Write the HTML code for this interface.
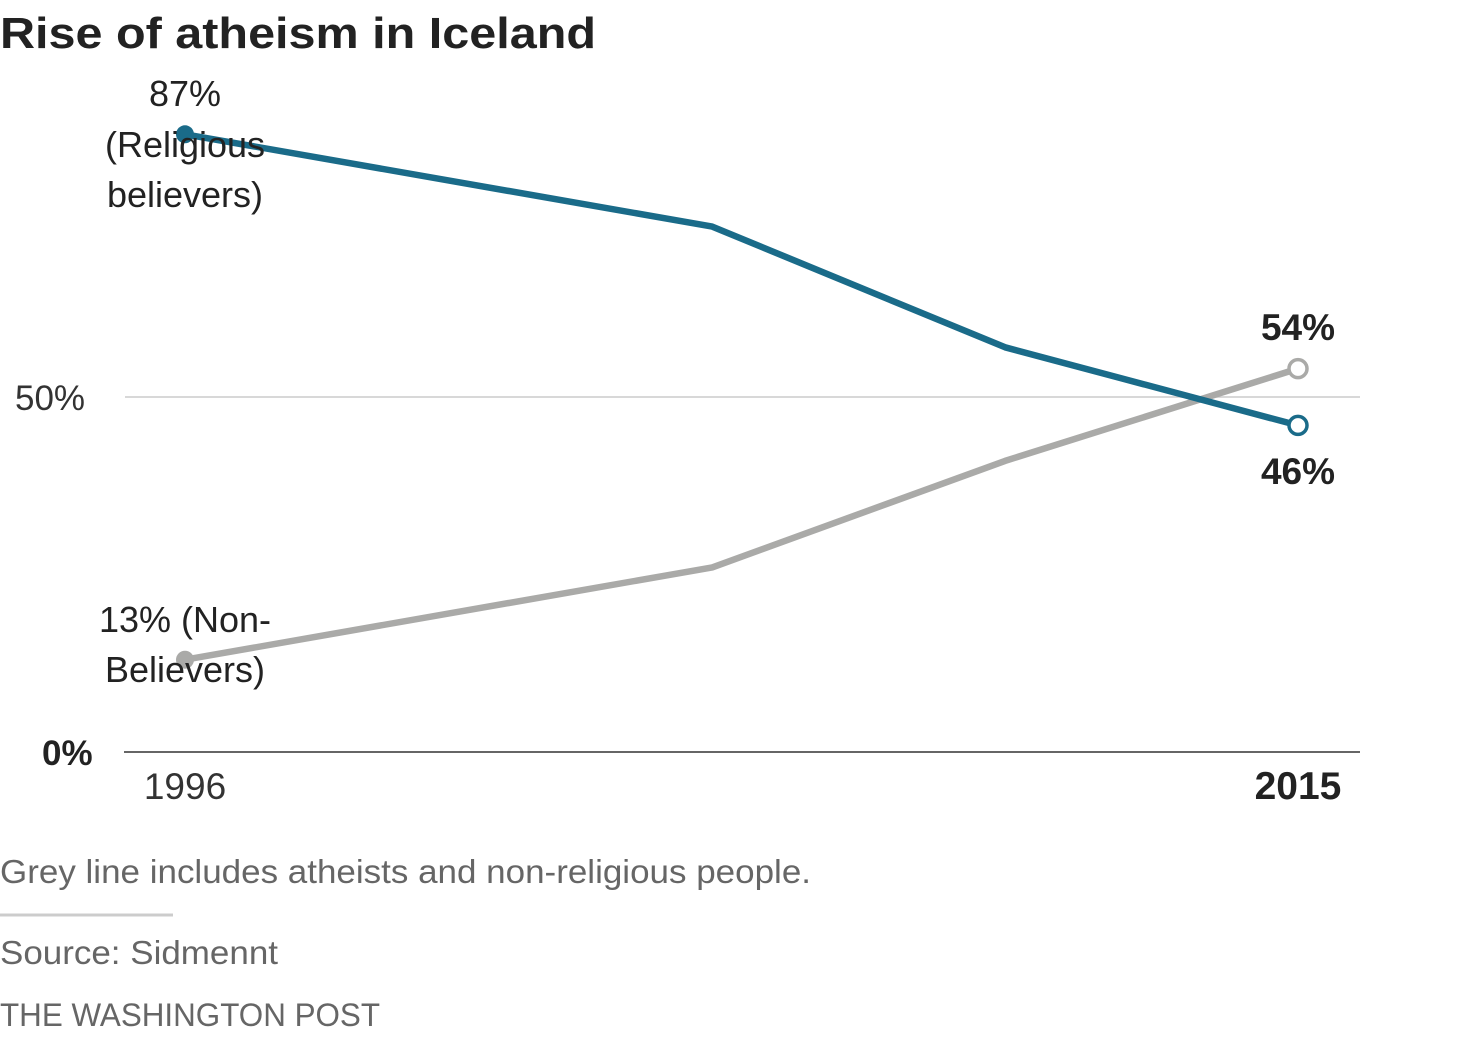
<!DOCTYPE html>
<html><head><meta charset="utf-8"><style>
body{margin:0;background:#fff;width:1484px;height:1041px;overflow:hidden;font-family:"Liberation Sans",sans-serif;}
svg{position:absolute;left:0;top:0}
</style></head><body>
<svg width="1484" height="1041">
<text x="0" y="48" font-size="44" font-weight="bold" fill="#222" textLength="596" lengthAdjust="spacingAndGlyphs">Rise of atheism in Iceland</text>
<g id="plot"></g>
<text x="0" y="883" font-size="33" fill="#666" textLength="811" lengthAdjust="spacingAndGlyphs">Grey line includes atheists and non-religious people.</text>
<line x1="0" y1="915" x2="173" y2="915" stroke="#ccc" stroke-width="3"/>
<text x="0" y="964" font-size="33" fill="#666" textLength="278" lengthAdjust="spacingAndGlyphs">Source: Sidmennt</text>
<text x="0" y="1026" font-size="32" fill="#666" textLength="380" lengthAdjust="spacingAndGlyphs">THE WASHINGTON POST</text>
</svg>
<script>
const years=[1996,2005,2010,2015];
const religious=[87,74,57,46];
const nonBelievers=[13,26,41,54];
const X=y=>185+(y-1996)*(1113/19);
const Y=v=>752-v*7.1;
const NS="http://www.w3.org/2000/svg";
const g=document.getElementById('plot');
function mk(t,a,txt){const e=document.createElementNS(NS,t);for(const k in a)e.setAttribute(k,a[k]);if(txt!==undefined)e.textContent=txt;g.appendChild(e);return e;}
let e=mk('line',{x1:125,x2:1360,y1:Y(50),y2:Y(50),stroke:'#ccc','stroke-width':1.5});


e=mk('line',{x1:124,x2:1360,y1:Y(0),y2:Y(0),stroke:'#666','stroke-width':2});


e=mk('text',{x:15,y:Y(50)+13,'font-size':35,fill:'#333'},'50%');


e=mk('text',{x:42,y:Y(0)+13,'font-size':35,'font-weight':'bold',fill:'#222'},'0%');


e=mk('text',{x:X(1996),y:799,'font-size':37,fill:'#333','text-anchor':'middle'},'1996');


e=mk('text',{x:X(2015),y:799,'font-size':39,'font-weight':'bold',fill:'#222','text-anchor':'middle'},'2015');


function series(vals,color,name){
  const pts=years.map((y,i)=>X(y)+','+Y(vals[i])).join(' ');
  let l=mk('polyline',{points:pts,fill:'none',stroke:color,'stroke-width':6.5,'stroke-linejoin':'round'});
  
  
  let c=mk('circle',{cx:X(years[0]),cy:Y(vals[0]),r:9,fill:color});
  
  
  let n=years.length-1;
  c=mk('circle',{cx:X(years[n]),cy:Y(vals[n]),r:9,fill:'#fff',stroke:color,'stroke-width':3.5});
  
  
}
series(nonBelievers,'#aaaaa8','non-believers');
series(religious,'#1a6b89','religious');
function lab(x,y,t,name,bold){let e=mk('text',{x:x,y:y,'font-size':bold?37:36,fill:'#222','text-anchor':'middle','font-weight':bold?'bold':'normal'},t);

}
lab(185,106,religious[0]+'%','religious-start-value');
lab(185,157,'(Religious','religious-label-1');
lab(185,207,'believers)','religious-label-2');
lab(185,632,nonBelievers[0]+'% (Non-','non-believers-label-1');
lab(185,682,'Believers)','non-believers-label-2');
lab(1298,340,nonBelievers[3]+'%','non-believers-end-value',true);
lab(1298,484,religious[3]+'%','religious-end-value',true);
</script>
</body></html>
